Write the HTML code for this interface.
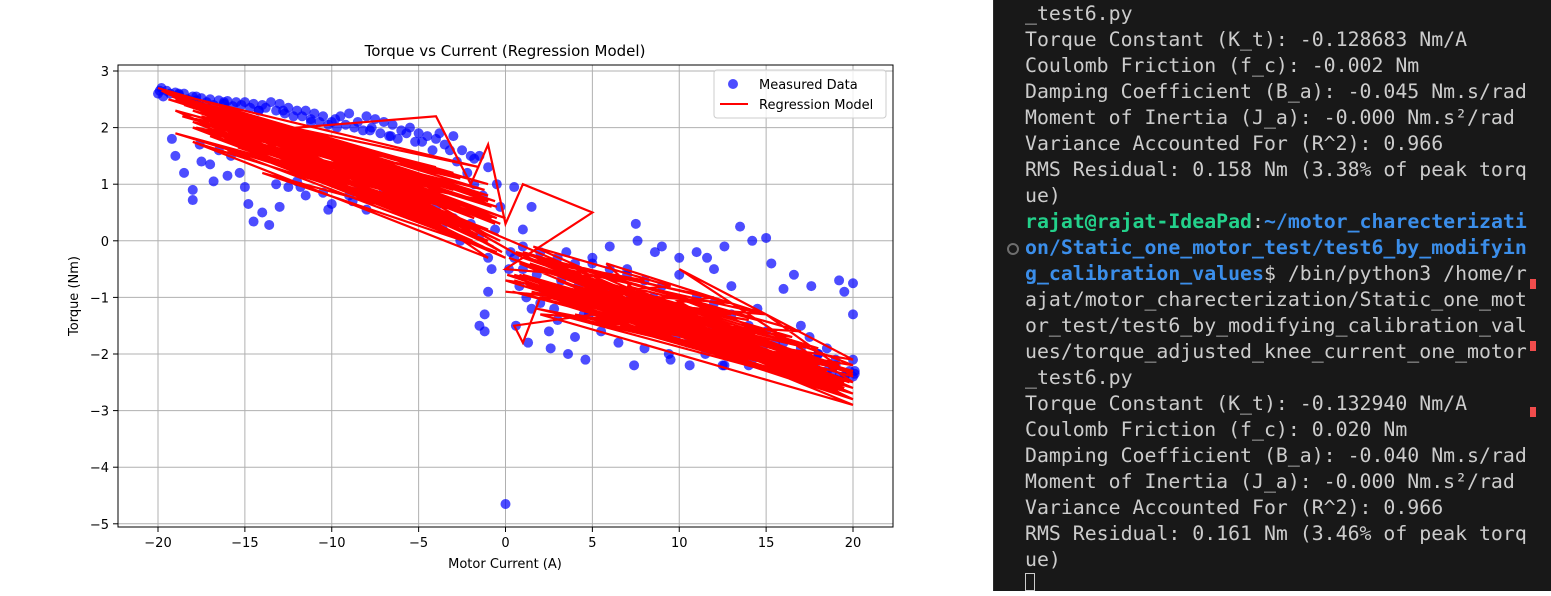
<!DOCTYPE html>
<html><head><meta charset="utf-8">
<style>
html,body{margin:0;padding:0;width:1551px;height:591px;overflow:hidden;background:#fff;}
#chart{position:absolute;left:0;top:0;width:993px;height:591px;background:#fff;}
#term{position:absolute;left:993px;top:0;width:558px;height:591px;background:#181818;border-left:1px solid #2b2b2b;box-sizing:border-box;}
.ln{position:absolute;left:31px;font-family:"DejaVu Sans Mono","Liberation Mono",monospace;font-size:19.85px;color:#cccccc;white-space:pre;line-height:26px;height:26px;}
.g{color:#23d18b;font-weight:bold}.b{color:#3b8eea;font-weight:bold}
.mk{position:absolute;left:536px;width:6px;height:10px;background:#f14c4c;}
text{font-family:"DejaVu Sans","Liberation Sans",sans-serif;}
</style></head><body>
<div id="chart">
<svg id="svg" width="993" height="591" xmlns="http://www.w3.org/2000/svg"></svg>
</div>
<div id="term">
<div class="ln" style="top:1px">_test6.py</div>
<div class="ln" style="top:27px">Torque Constant (K_t): -0.128683 Nm/A</div>
<div class="ln" style="top:53px">Coulomb Friction (f_c): -0.002 Nm</div>
<div class="ln" style="top:79px">Damping Coefficient (B_a): -0.045 Nm.s/rad</div>
<div class="ln" style="top:105px">Moment of Inertia (J_a): -0.000 Nm.s²/rad</div>
<div class="ln" style="top:131px">Variance Accounted For (R^2): 0.966</div>
<div class="ln" style="top:157px">RMS Residual: 0.158 Nm (3.38% of peak torq</div>
<div class="ln" style="top:183px">ue)</div>
<div class="ln" style="top:209px"><span class="g">rajat@rajat-IdeaPad</span>:<span class="b">~/motor_charecterizati</span></div>
<div style="position:absolute;left:13px;top:243px;width:8px;height:8px;border:2px solid #6e6e6e;border-radius:50%"></div>
<div class="ln" style="top:235px"><span class="b">on/Static_one_motor_test/test6_by_modifyin</span></div>
<div class="ln" style="top:261px"><span class="b">g_calibration_values</span>$ /bin/python3 /home/r</div>
<div class="ln" style="top:287px">ajat/motor_charecterization/Static_one_mot</div>
<div class="ln" style="top:313px">or_test/test6_by_modifying_calibration_val</div>
<div class="ln" style="top:339px">ues/torque_adjusted_knee_current_one_motor</div>
<div class="ln" style="top:365px">_test6.py</div>
<div class="ln" style="top:391px">Torque Constant (K_t): -0.132940 Nm/A</div>
<div class="ln" style="top:417px">Coulomb Friction (f_c): 0.020 Nm</div>
<div class="ln" style="top:443px">Damping Coefficient (B_a): -0.040 Nm.s/rad</div>
<div class="ln" style="top:469px">Moment of Inertia (J_a): -0.000 Nm.s²/rad</div>
<div class="ln" style="top:495px">Variance Accounted For (R^2): 0.966</div>
<div class="ln" style="top:521px">RMS Residual: 0.161 Nm (3.46% of peak torq</div>
<div class="ln" style="top:547px">ue)</div>
<div style="position:absolute;left:31px;top:573px;width:10px;height:18px;border:1px solid #cccccc;box-sizing:border-box"></div>
<div class="mk" style="top:279px"></div>
<div class="mk" style="top:341px"></div>
<div class="mk" style="top:407px"></div>
</div>
<script>
const xTicks=[-20,-15,-10,-5,0,5,10,15,20];
const yTicks=[3,2,1,0,-1,-2,-3,-4,-5];
const scatterX=[-20,-19.8,-19.5,-19,-18.5,-18,-17.5,-17,-16.5,-16,-15.5,-15,-14.5,-14,-13.5,-13,-12.5,-12,-11.5,-11,-10.5,-10,-9.5,-9,-8.5,-8,-7.5,-7,-6.5,-6,-5.5,-5,-4.5,-4,-3.5,-3,-2.5,-2,-1.5,-1,-0.5,
-19,-18.5,-18,-18,-17.5,-17,-16.8,-16,-15.8,-15,-14.8,-14,-14.5,-13.6,-13,-12.5,-12,-11.5,-10.5,-10,-10.2,-9,-8.5,-8,-7,-6,-5,-4,-3,-2,-1.5,-1,-0.8,-1,-1.2,-1.5,-1.2,0,0.5,0.3,
1,1.5,2,2.5,3,3.5,4,4.5,5,5.5,6,6.5,7,7.5,8,8.5,9,9.5,10,10.5,11,11.5,12,12.5,13,13.5,14,14.5,15,15.3,15.5,16,16.5,17,17.5,18,18.5,19,19.2,19.5,20,20,20,20,19.8,19.5,19,18.5,
0.5,1,2,3,4,5,6,7,8,9,10,11,12,13,14,15,16,17,18,19,20.1,-19.9,-18.8,-17.8,-16.2,-14.2,-12.8,-11.2,-9.8,-7.8,-6.6,-4.8,-3.2,-1.8];
const scatterY=[2.6,2.7,2.65,2.62,2.6,2.55,2.52,2.5,2.48,2.47,2.45,2.45,2.42,2.4,2.45,2.42,2.35,2.3,2.3,2.25,2.2,2.1,2.2,2.25,2.1,2.2,2.15,2.1,2.05,1.95,2.0,1.9,1.85,1.8,1.7,1.85,1.6,1.5,1.5,1.3,1.0,
1.5,1.2,0.9,0.72,1.4,1.35,1.05,1.15,1.5,0.95,0.65,0.5,0.34,0.28,0.6,0.95,1.05,0.8,0.85,0.65,0.55,0.8,1.0,0.55,0.9,0.7,0.8,0.6,0.4,0.3,0.1,-0.3,-0.5,-0.9,-1.3,-1.5,-1.6,-4.65,0.95,-0.2,
-0.5,-1.2,-1.1,-1.6,-1.4,-0.2,-1.7,-1.3,-0.4,-1.6,-0.1,-1.8,-0.5,0.3,-1.9,-1.0,-0.1,-2.1,-0.3,-1.8,-0.2,-2.0,-0.5,-2.2,-0.8,0.25,-2.2,-1.2,0.05,-0.4,-1.8,-0.85,-2.3,-1.5,-1.7,-2.0,-1.9,-2.2,-0.7,-0.9,-0.75,-1.3,-2.1,-2.4,-2.3,-2.4,-2.45,-2.3,
-0.3,-0.1,-0.2,-0.3,-0.4,-0.3,-0.5,-0.6,-0.7,-0.8,-0.6,-1.0,-1.1,-1.3,-1.5,-1.6,-1.8,-1.9,-2.0,-2.1,-2.35,2.65,2.6,2.55,2.45,2.3,2.3,2.1,2.15,1.95,1.85,1.75,1.6,1.45];
const scatterX2=[-19.7,-19.3,-18.8,-18.3,-17.8,-17.2,-16.8,-16.2,-15.7,-15.2,-14.7,-14.2,-13.8,-13.2,-12.7,-12.2,-11.7,-11.2,-10.7,-10.2,-9.7,-9.2,-8.7,-8.2,-7.7,-7.2,-6.7,-6.2,-5.7,-5.2,-4.2,-3.8,-2.8,-2.2,-1.8,-1.3,-0.3,-0.6,
-19.2,-17.6,-16.5,-15.3,-13.2,-11.8,-9.6,-8.8,-7.4,-6.4,-5.5,-4.5,-3.6,-2.6,
0.2,0.8,1.2,1.8,2.2,2.8,3.2,3.8,4.2,4.8,5.2,5.8,6.2,6.8,7.2,7.8,8.2,8.8,9.2,9.8,10.2,10.8,11.2,11.8,12.2,12.8,13.2,13.8,14.2,14.8,15.2,15.8,16.2,16.8,17.2,17.8,18.2,18.8,19.2,19.6,20.1,1.5,1.0,0.6,1.3,2.6,3.6,4.6,7.4,9.4,10.6,12.6,7.6,8.6,11.6,12.6,14.2,16.6,17.6];
const scatterY2=[2.55,2.6,2.58,2.5,2.48,2.45,2.4,2.42,2.38,2.4,2.35,2.3,2.35,2.3,2.25,2.2,2.2,2.15,2.1,2.05,2.0,2.05,2.0,1.95,2.0,1.9,1.85,1.8,1.9,1.75,1.6,1.9,1.4,1.2,1.0,0.8,0.6,0.2,
1.8,1.7,1.6,1.2,1.0,0.95,1.1,0.7,0.75,0.95,0.6,0.5,0.2,0.0,
-0.5,-0.8,-1.0,-0.6,-0.9,-1.2,-0.7,-1.0,-0.8,-1.3,-1.1,-0.9,-1.4,-1.2,-1.0,-1.5,-1.3,-1.6,-1.2,-1.7,-1.5,-1.3,-1.8,-1.6,-1.9,-1.7,-2.0,-1.8,-2.1,-1.9,-2.2,-2.0,-2.15,-2.1,-2.3,-2.2,-2.35,-2.3,-2.4,-2.35,-2.3,0.6,0.2,-1.5,-1.8,-1.9,-2.0,-2.1,-2.2,-2.0,-2.2,-2.2,0.0,-0.2,-0.3,-0.1,0.0,-0.6,-0.8];
const modelX=[-20,-1,-19,-2,-18,0,-19.5,-3,-18,-1,-17,-5,-15,-1,-16,-0.5,-14,-2,-18,-1,-12,-4,-2,-1,0,1,5,0,8,1,12,0.5,1,2,10,0,15,2,18,3,20,4,20,6,19,1,17,2,20,5,20,10,20,8,18,3,13,0,20,
-19.8,-1.5,-18.5,-0.5,-17.5,-2.5,-16.5,-1,-19,-3.5,-15.5,0,-18.5,-1.2,-17,-0.8,-14.5,-2,-19,-6,-18,-1,-13,-0.3,-17.8,-1,-16,-2,
-19.6,-0.6,-19.2,-1.4,-18.8,-0.9,-18.2,-2.2,-17.6,-0.4,-17.2,-1.8,-16.8,-3.0,-16.4,-0.7,-15.8,-2.6,-15.2,-1.1,-14.6,-0.3,-14.0,-3.4,-13.4,-0.8,-12.8,-2.0,-12.2,-0.5,-11.6,-1.6,-11.0,-0.2,-10.4,-2.4,-9.8,-1.0,-9.2,-0.6,
-19.4,-4.0,-18.6,-5,-17.4,-6,-16.2,-3.8,-15.4,-4.5,-13.8,-2.8,-12.6,-1.3,-11.4,-3.2,-10.2,-1.9,-19.0,-7,-17.8,-8,-16.6,-9,-15,-6.5,
1,19,0.5,18,2,20,1.5,16,3,20,0.8,17,2.5,19.5,1.2,14,4,20,2,18,6,20,0.5,15,3,19,1,20,5,20,2,17,7,20,
0.2,18.5,0.8,19.8,1.4,19.2,2.2,20,2.8,17.5,3.4,19.5,4.2,16.5,4.8,20,5.4,18,6.2,19,0.4,15.5,1.8,17,3.0,18.8,0.6,13,1.0,12,2.0,14.5,7,20,8,19.6,9,20,6.6,18.2,0.1,10.5,1.6,9.5,2.6,11,5.8,15,20];
const modelY=[2.7,1.0,2.5,0.9,2.3,0.4,2.6,1.2,2.0,0.0,1.85,0.8,2.2,0.7,1.6,-0.2,1.2,0.2,1.75,-0.3,2.0,2.2,1.0,1.7,0.3,1.0,0.5,-0.5,-0.7,-0.3,-1.0,-1.5,-1.8,-1.0,-1.2,-0.9,-1.3,-0.4,-1.9,-0.8,-2.3,-1.3,-2.7,-1.4,-2.5,-0.2,-1.6,-1.3,-2.9,-1.0,-2.5,-0.5,-2.1,-1.5,-2.3,-1.1,-1.3,-0.7,-2.6,
2.65,1.3,2.4,0.6,2.2,0.9,2.0,0.2,1.9,0.6,1.7,-0.3,2.5,0.9,2.1,0.4,1.5,0.0,2.3,1.2,2.1,0.1,1.9,0.3,2.45,0.8,1.9,0.5,
2.62,0.3,2.55,0.8,2.45,0.5,2.4,0.9,2.3,0.1,2.2,0.4,2.35,0.9,2.1,-0.1,2.25,1.1,2.0,0.2,1.95,0.0,2.1,1.2,1.8,0.6,1.9,0.6,1.7,0.4,1.8,0.1,1.6,-0.2,1.7,0.5,1.5,0.1,1.6,0.7,
2.5,1.3,2.2,1.0,1.95,0.85,1.8,0.5,1.65,0.6,1.45,0.3,1.3,-0.1,1.25,0.4,1.05,0.0,2.3,1.3,2.0,1.1,1.9,1.2,1.8,1.0,
-0.3,-2.2,-0.6,-2.4,-0.5,-2.6,-0.9,-1.9,-0.7,-2.8,-0.4,-2.0,-1.0,-2.5,-0.8,-1.4,-0.9,-2.7,-0.4,-2.2,-1.2,-2.4,-0.7,-2.0,-1.1,-2.6,-0.6,-2.3,-1.3,-2.8,-0.9,-2.1,-1.4,-2.5,
-0.3,-2.3,-0.6,-2.5,-0.4,-2.2,-0.8,-2.7,-0.5,-1.9,-0.9,-2.6,-0.6,-1.7,-1.1,-2.8,-0.7,-2.1,-1.0,-2.4,-0.9,-2.0,-1.2,-2.3,-1.3,-2.6,-0.2,-1.1,-0.8,-1.6,-0.3,-1.4,-0.8,-2.35,-1.2,-2.75,-0.9,-2.2,-1.5,-2.5,-0.6,-1.3,-0.1,-0.8,-1.0,-1.9,-0.4,-1.3,-2.4];
const NS='http://www.w3.org/2000/svg';
const svg=document.getElementById('svg');
const L=118,R=893,T=65,B=527;
const sx=v=>505.5+v*17.375;
const sy=v=>240.8-v*56.6;
function mk(tag,attrs,parent){const e=document.createElementNS(NS,tag);for(const k in attrs)e.setAttribute(k,attrs[k]);(parent||svg).appendChild(e);return e;}
const grid=mk('g',{});


xTicks.forEach(t=>{
 const x=sx(t);
 const gl=mk('line',{x1:x,x2:x,y1:T,y2:B,stroke:'#b0b0b0','stroke-width':1},grid);
 
 
 const tk=mk('line',{x1:x,x2:x,y1:B,y2:B+5,stroke:'#000','stroke-width':1});
 
 
 const lb=mk('text',{x:x,y:547,'font-size':13,'text-anchor':'middle',fill:'#000'});
 lb.textContent=(t<0?'\u2212'+(-t):String(t));
 
 
});
yTicks.forEach(t=>{
 const y=sy(t);
 const gl=mk('line',{x1:L,x2:R,y1:y,y2:y,stroke:'#b0b0b0','stroke-width':1},grid);
 
 
 const tk=mk('line',{x1:L-5,x2:L,y1:y,y2:y,stroke:'#000','stroke-width':1});
 
 
 const lb=mk('text',{x:109,y:y+5,'font-size':13,'text-anchor':'end',fill:'#000'});
 lb.textContent=(t<0?'\u2212'+(-t):String(t));
 
 
});
const sc=mk('g',{fill:'#0000ff','fill-opacity':0.7});


scatterX.forEach((x,i)=>{
 const c=mk('circle',{cx:sx(x),cy:sy(scatterY[i]),r:5},sc);
 
 
});
scatterX2.forEach((x,i)=>{
 const c=mk('circle',{cx:sx(x),cy:sy(scatterY2[i]),r:5},sc);
 
 
});
const pts=modelX.map((x,i)=>sx(x).toFixed(1)+','+sy(modelY[i]).toFixed(1)).join(' ');
const pl=mk('polyline',{points:pts,fill:'none',stroke:'#ff0000','stroke-width':2.2,'stroke-linejoin':'miter'});


const fr=mk('rect',{x:L,y:T,width:R-L,height:B-T,fill:'none',stroke:'#000','stroke-width':1});


const ti=mk('text',{x:505,y:56,'font-size':15,'text-anchor':'middle',fill:'#000'});
ti.textContent='Torque vs Current (Regression Model)';


const xl=mk('text',{x:505,y:568,'font-size':13,'text-anchor':'middle',fill:'#000'});
xl.textContent='Motor Current (A)';


const yl=mk('text',{x:0,y:0,'font-size':13,'text-anchor':'middle',fill:'#000',transform:'translate(78,296) rotate(-90)'});
yl.textContent='Torque (Nm)';


const lg=mk('g',{});


mk('rect',{x:714,y:70,width:172,height:48,rx:3,fill:'#fff','fill-opacity':0.8,stroke:'#cccccc'},lg);
const e1=mk('circle',{cx:733,cy:84,r:5,fill:'#0000ff','fill-opacity':0.7},lg);


const t1=mk('text',{x:759,y:89,'font-size':13,fill:'#000'},lg);
t1.textContent='Measured Data';


const e2=mk('line',{x1:720,x2:748,y1:104,y2:104,stroke:'#ff0000','stroke-width':2},lg);


const t2=mk('text',{x:759,y:109,'font-size':13,fill:'#000'},lg);
t2.textContent='Regression Model';


</script>
</body></html>
